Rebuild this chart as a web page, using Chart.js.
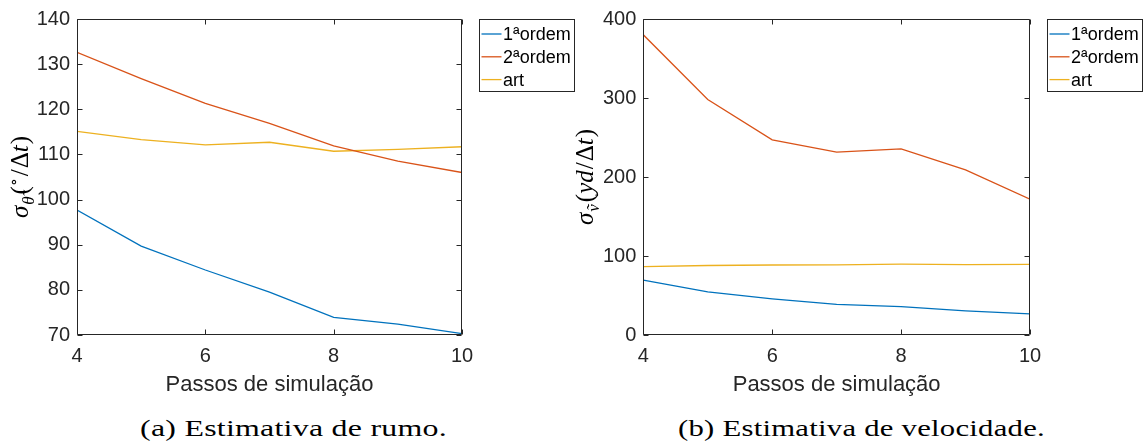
<!DOCTYPE html>
<html>
<head>
<meta charset="utf-8">
<script src="https://cdn.jsdelivr.net/npm/chart.js@4"></script>
<style>
  html, body { margin: 0; padding: 0; background: #fff; }
  body { width: 1143px; height: 445px; position: relative; overflow: hidden; }
  canvas { position: absolute; top: 0; }
  #c1 { left: 0; }
  #c2 { left: 575px; }
  .cap { position: absolute; top: 415px; font-family: "Liberation Serif", serif; font-size: 24px;
         letter-spacing: 0.2px; color: #000; white-space: nowrap; transform-origin: 0 0; }
</style>
</head>
<body>
<canvas id="c1" width="575" height="400"></canvas>
<canvas id="c2" width="568" height="400"></canvas>
<div class="cap" id="capA">(a) Estimativa de rumo.</div>
<div class="cap" id="capB">(b) Estimativa de velocidade.</div>
<script>
// simulation steps (x axis)
const steps = [4, 5, 6, 7, 8, 9, 10];
const xTicks = [4, 6, 8, 10];

// heading estimate std-dev (deg / Δt)
const rumoPrimeira = [97.7, 89.7, 84.4, 79.5, 73.9, 72.4, 70.3];
const rumoSegunda  = [132.6, 126.8, 121.3, 116.9, 111.9, 108.5, 106.0];
const rumoArt      = [115.1, 113.3, 112.1, 112.7, 110.7, 111.1, 111.7];
const rumoTicks    = [70, 80, 90, 100, 110, 120, 130, 140];

// speed estimate std-dev (yd / Δt)
const veloPrimeira = [69.6, 54.6, 45.8, 38.8, 36.0, 30.5, 26.7];
const veloSegunda  = [380, 298, 247, 231.6, 235.5, 209, 172];
const veloArt      = [86.6, 88.0, 88.6, 88.8, 89.8, 89.2, 89.3];
const veloTicks    = [0, 100, 200, 300, 400];

const seriesNames = ['1ªordem', '2ªordem', 'art'];
const colors = ['#0072BD', '#D95319', '#EDB120'];
const axisColor = '#262626';

function datasets(a, b, c) {
  return [a, b, c].map((vals, i) => ({
    label: seriesNames[i],
    data: vals.map((v, k) => ({ x: steps[k], y: v })),
    borderColor: colors[i],
    backgroundColor: colors[i],
    borderWidth: 1.3,
    pointRadius: 0,
    tension: 0,
    fill: false
  }));
}

// box around the plot area with inward tick marks on all four sides
const framePlugin = {
  id: 'frame',
  afterDatasetsDraw(chart) {
    const { ctx, chartArea: a, scales: { x, y } } = chart;
    const L = Math.round(a.left) + 0.5, R = Math.round(a.right) - 0.5;
    const T = Math.round(a.top) + 0.5, B = Math.round(a.bottom) - 0.5;
    const tl = 5;
    ctx.save();
    ctx.strokeStyle = axisColor;
    ctx.lineWidth = 1;
    ctx.beginPath();
    ctx.rect(L, T, R - L, B - T);
    x.ticks.forEach(t => {
      const px = Math.round(x.getPixelForValue(t.value)) + 0.5;
      ctx.moveTo(px, B); ctx.lineTo(px, B - tl);
      ctx.moveTo(px, T); ctx.lineTo(px, T + tl);
    });
    y.ticks.forEach(t => {
      const py = Math.round(y.getPixelForValue(t.value)) + 0.5;
      ctx.moveTo(L, py); ctx.lineTo(L + tl, py);
      ctx.moveTo(R, py); ctx.lineTo(R - tl, py);
    });
    ctx.stroke();
    ctx.restore();
  }
};

// boxed legend placed just right of the plot area
const legendBoxPlugin = {
  id: 'legendBox',
  afterDraw(chart) {
    const { ctx, chartArea: a } = chart;
    const bx = Math.round(a.right + 17) + 0.5, by = Math.round(a.top) + 0.5;
    const bw = 95, bh = 72;
    ctx.save();
    ctx.fillStyle = '#fff';
    ctx.fillRect(bx, by, bw, bh);
    ctx.strokeStyle = axisColor;
    ctx.lineWidth = 1;
    ctx.strokeRect(bx, by, bw, bh);
    ctx.font = '18px "Liberation Sans", Arial, sans-serif';
    ctx.textBaseline = 'middle';
    ctx.textAlign = 'left';
    chart.data.datasets.forEach((ds, i) => {
      const cy = by + 14.5 + i * 22.8;
      ctx.strokeStyle = ds.borderColor;
      ctx.lineWidth = 1.3;
      ctx.beginPath();
      ctx.moveTo(bx + 2, cy); ctx.lineTo(bx + 22, cy);
      ctx.stroke();
      ctx.fillStyle = '#000';
      ctx.fillText(ds.label, bx + 23.5, cy + 1);
    });
    ctx.restore();
  }
};

// rotated math-style y axis title, pieces: [text, style, size, raise, gapAfter]
function mathTitlePlugin(pieces, baselineX) {
  return {
    id: 'mathTitle',
    afterDraw(chart) {
      const { ctx, chartArea: a } = chart;
      const fontFor = (p) => (p[1] === 'i' ? 'italic ' : '') + p[2] + 'px "Liberation Serif", "DejaVu Serif", serif';
      ctx.save();
      let total = 0;
      pieces.forEach(p => { ctx.font = fontFor(p); total += ctx.measureText(p[0]).width + (p[4] || 0); });
      const cy = (a.top + a.bottom) / 2;
      ctx.translate(baselineX, cy);
      ctx.rotate(-Math.PI / 2);
      ctx.fillStyle = '#000';
      ctx.textBaseline = 'alphabetic';
      let cx = -total / 2;
      pieces.forEach(p => {
        ctx.font = fontFor(p);
        ctx.fillText(p[0], cx, -p[3]);
        cx += ctx.measureText(p[0]).width + (p[4] || 0);
      });
      ctx.restore();
    }
  };
}

function makeChart(id, data, yMin, yMax, yTicks, yAxisWidth, rightPad, titlePieces, titleX) {
  return new Chart(document.getElementById(id), {
    type: 'line',
    data: { datasets: data },
    options: {
      responsive: false,
      animation: false,
      devicePixelRatio: 1,
      layout: { padding: { left: 0, top: 15, right: rightPad, bottom: 0 } },
      plugins: { legend: { display: false }, tooltip: { enabled: false } },
      scales: {
        x: {
          type: 'linear', min: 4, max: 10,
          afterBuildTicks: s => { s.ticks = xTicks.map(v => ({ value: v })); },
          afterFit: s => { s.height = 65; },
          grid: { display: false, drawTicks: false },
          border: { display: false },
          ticks: { color: axisColor, padding: 9, maxRotation: 0,
                   font: { family: '"Liberation Sans", Arial, sans-serif', size: 20 } },
          title: { display: true, text: 'Passos de simulação', color: axisColor,
                   padding: { top: 0, bottom: 2 },
                   font: { family: '"Liberation Sans", Arial, sans-serif', size: 22 } }
        },
        y: {
          type: 'linear', min: yMin, max: yMax,
          afterBuildTicks: s => { s.ticks = yTicks.map(v => ({ value: v })); },
          afterFit: s => { s.width = yAxisWidth; },
          grid: { display: false, drawTicks: false },
          border: { display: false },
          ticks: { color: axisColor, padding: 7,
                   font: { family: '"Liberation Sans", Arial, sans-serif', size: 20 } }
        }
      }
    },
    plugins: [framePlugin, legendBoxPlugin, mathTitlePlugin(titlePieces, titleX)]
  });
}

makeChart('c1', datasets(rumoPrimeira, rumoSegunda, rumoArt), 70, 140, rumoTicks, 77, 113,
  [['σ', 'i', 25, 0, 1], ['θ̃', 'i', 17, -6, 2], ['(', 'n', 25, 0, 0], ['∘', 'n', 16, 9, 2],
   ['/', 'n', 25, 0, 1], ['Δ', 'n', 25, 0, 0], ['t', 'i', 25, 0, 1], [')', 'n', 25, 0, 0]], 28);

makeChart('c2', datasets(veloPrimeira, veloSegunda, veloArt), 0, 400, veloTicks, 68.3, 113,
  [['σ', 'i', 25, 0, 1], ['ṽ', 'i', 17, -6, 2], ['(', 'n', 25, 0, 0], ['yd', 'i', 25, 0, 1],
   ['/', 'n', 25, 0, 1], ['Δ', 'n', 25, 0, 0], ['t', 'i', 25, 0, 1], [')', 'n', 25, 0, 0]], 18);

// captions: each one stretched to its panel's caption span
function placeCaption(id, left, right) {
  const el = document.getElementById(id);
  const w = el.getBoundingClientRect().width;
  const sx = (right - left) / w;
  el.style.left = left + 'px';
  el.style.transform = 'scaleX(' + sx.toFixed(4) + ')';
}
placeCaption('capA', 140, 447);
placeCaption('capB', 678, 1045);
</script>
</body>
</html>
